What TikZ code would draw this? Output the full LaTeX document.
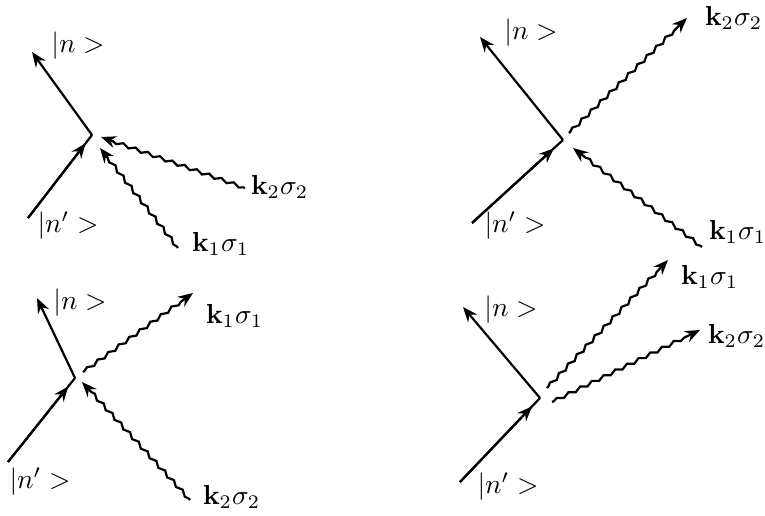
\documentclass[tikz,border=0pt]{standalone}
\usetikzlibrary{arrows.meta,decorations.pathmorphing,calc}
\begin{document}
\begin{tikzpicture}[x=1pt,y=-1pt,
  line width=2.2pt,
  tip/.style={-{Stealth[length=15pt,width=12pt,inset=5pt]}},
  wave/.style={tip,decorate,decoration={snake,amplitude=1.6pt,segment length=13pt,pre length=2pt,post length=12pt}},
  lbl/.style={inner sep=0pt,scale=2.75},
  lblw/.style={lbl,anchor=west}]
\useasboundingbox (0,0) rectangle (765,515);

% ---------- diagram 1 (top left)
\coordinate (v1) at (92,135);
\coordinate (t1) at (32,52);
\coordinate (s1) at (28,218);
\coordinate (a1) at (245,188);
\coordinate (a1e) at (101,137);
\coordinate (b1) at (178,248);
\coordinate (b1e) at (100,148);
\draw[tip] (v1) -- (t1);
\draw (s1) -- (v1);
\draw[tip] (s1) -- ($(s1)!0.9!(v1)$);
\draw[wave] (a1) -- (a1e);
\draw[wave] (b1) -- (b1e);
\node[lbl] (n1) at (78,46) {$|n>$};
\node[lbl] (m1) at (68,226) {$|n'>$};
\node[lblw] (k21) at (248,187) {$\mathbf{k}_2\sigma_2$};
\node[lblw] (k11) at (189,244) {$\mathbf{k}_1\sigma_1$};

% ---------- diagram 2 (top right)
\coordinate (v2) at (563,140);
\coordinate (t2) at (480,37);
\coordinate (s2) at (472,223);
\coordinate (a2) at (569,133);
\coordinate (a2e) at (687,18);
\coordinate (b2) at (702,247);
\coordinate (b2e) at (573,148);
\draw[tip] (v2) -- (t2);
\draw (s2) -- (v2);
\draw[tip] (s2) -- ($(s2)!0.9!(v2)$);
\draw[wave] (a2) -- (a2e);
\draw[wave] (b2) -- (b2e);
\node[lbl] (n2) at (531,33) {$|n>$};
\node[lbl] (m2) at (515,226) {$|n'>$};
\node[lblw] (k22) at (702,18) {$\mathbf{k}_2\sigma_2$};
\node[lblw] (k12) at (706,232) {$\mathbf{k}_1\sigma_1$};

% ---------- diagram 3 (bottom left)
\coordinate (v3) at (75,378);
\coordinate (t3) at (37,298);
\coordinate (s3) at (8,462);
\coordinate (a3) at (83,372);
\coordinate (a3e) at (193,293);
\coordinate (b3) at (190,500);
\coordinate (b3e) at (82,382);
\draw[tip] (v3) -- (t3);
\draw (s3) -- (v3);
\draw[tip] (s3) -- ($(s3)!0.9!(v3)$);
\draw[wave] (a3) -- (a3e);
\draw[wave] (b3) -- (b3e);
\node[lbl] (n3) at (80,303) {$|n>$};
\node[lbl] (m3) at (40,482) {$|n'>$};
\node[lblw] (k13) at (203,316) {$\mathbf{k}_1\sigma_1$};
\node[lblw] (k23) at (200,497) {$\mathbf{k}_2\sigma_2$};

% ---------- diagram 4 (bottom right)
\coordinate (v4) at (540,398);
\coordinate (t4) at (463,307);
\coordinate (s4) at (460,482);
\coordinate (a4) at (547,388);
\coordinate (a4e) at (668,260);
\coordinate (b4) at (552,402);
\coordinate (b4e) at (700,330);
\draw[tip] (v4) -- (t4);
\draw (s4) -- (v4);
\draw[tip] (s4) -- ($(s4)!0.9!(v4)$);
\draw[wave] (a4) -- (a4e);
\draw[wave] (b4) -- (b4e);
\node[lbl] (n4) at (511,310) {$|n>$};
\node[lbl] (m4) at (508,487) {$|n'>$};
\node[lblw] (k14) at (678,277) {$\mathbf{k}_1\sigma_1$};
\node[lblw] (k24) at (705,336) {$\mathbf{k}_2\sigma_2$};
\end{tikzpicture}
\end{document}
